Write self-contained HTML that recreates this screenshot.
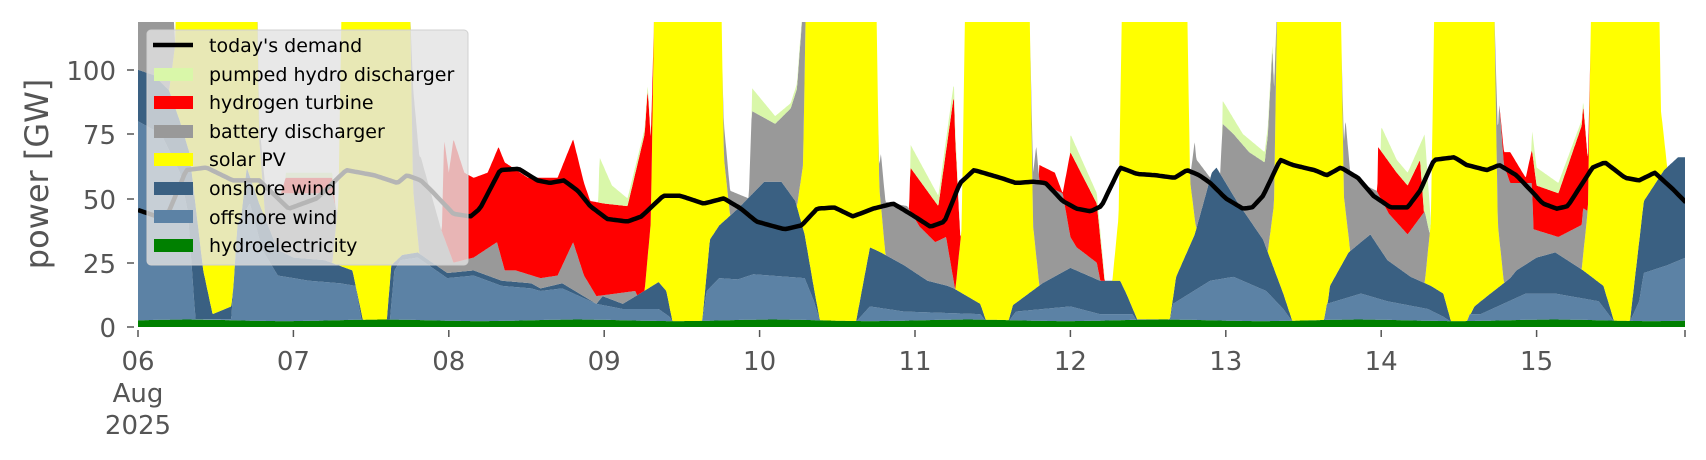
<!DOCTYPE html>
<html><head><meta charset="utf-8">
<style>
html,body{margin:0;padding:0;background:#fff;}
svg{display:block;font-family:"DejaVu Sans","Liberation Sans",sans-serif;}
</style></head>
<body>
<svg id="s" width="1706" height="460" viewBox="0 0 1706 460" xmlns="http://www.w3.org/2000/svg">
<defs><clipPath id="cp"><rect x="138" y="22" width="1547" height="305"/></clipPath></defs>
<g id="layers" clip-path="url(#cp)"></g>
<g id="axes" fill="#555" font-size="26">
<g stroke="#555" stroke-width="1.5">
<line x1="127" y1="327" x2="134" y2="327"/><line x1="127" y1="263" x2="134" y2="263"/><line x1="127" y1="199" x2="134" y2="199"/><line x1="127" y1="134" x2="134" y2="134"/><line x1="127" y1="70" x2="134" y2="70"/>
</g>
<text x="116" y="337" text-anchor="end">0</text>
<text x="116" y="273" text-anchor="end">25</text>
<text x="116" y="209" text-anchor="end">50</text>
<text x="116" y="144" text-anchor="end">75</text>
<text x="116" y="80" text-anchor="end">100</text>
<text transform="translate(48,174) rotate(-90)" text-anchor="middle" font-size="32">power [GW]</text>
<g id="xt" stroke="#555" stroke-width="1.5"></g>
<g id="xl" text-anchor="middle"></g>
<text x="138" y="402" text-anchor="middle">Aug</text>
<text x="138" y="434" text-anchor="middle">2025</text>
</g>
<g id="legend">
<rect x="147" y="30" width="321" height="235" rx="4" fill="rgba(226,226,226,0.8)" stroke="#d0d0d0" stroke-width="1"/>
<line x1="153" y1="45" x2="193" y2="45" stroke="#000" stroke-width="4.5"/>
<rect x="154" y="68" width="39" height="13" fill="#d9f7a9"/>
<rect x="154" y="96" width="39" height="13" fill="#ff0000"/>
<rect x="154" y="125" width="39" height="13" fill="#999999"/>
<rect x="154" y="153" width="39" height="13" fill="#ffff00"/>
<rect x="154" y="182" width="39" height="13" fill="#3a6082"/>
<rect x="154" y="210" width="39" height="13" fill="#5c82a5"/>
<rect x="154" y="239" width="39" height="13" fill="#008000"/>
<g font-size="19" fill="#000">
<text x="209" y="52">today's demand</text>
<text x="209" y="81">pumped hydro discharger</text>
<text x="209" y="109">hydrogen turbine</text>
<text x="209" y="138">battery discharger</text>
<text x="209" y="166">solar PV</text>
<text x="209" y="195">onshore wind</text>
<text x="209" y="224">offshore wind</text>
<text x="209" y="252">hydroelectricity</text>
</g>
</g>
</svg>
<script>
var X0=138,DW=155.4,Y0=327,K=2.572;
function px(d){return X0+d*DW;} function py(v){return Y0-v*K;}
function ip(a,d){if(d<=a[0][0])return a[0][1];for(var i=1;i<a.length;i++){if(d<=a[i][0]){var t=(d-a[i-1][0])/(a[i][0]-a[i-1][0]);return a[i-1][1]+t*(a[i][1]-a[i-1][1]);}}return a[a.length-1][1];}
var ON=[[0,100],[0.1,98],[0.2,92],[0.27,80],[0.33,68],[0.42,22],[0.48,5],[0.6,8],[0.64,30],[0.7,62],[0.78,48],[0.9,30],[1.0,27],[1.2,26],[1.38,22],[1.45,2],[1.6,2],[1.63,24],[1.7,28],[1.8,29],[1.99,21],[2.16,22],[2.34,18],[2.53,17],[2.59,15],[2.73,17],[2.95,9],[2.99,12],[3.12,9],[3.23,13],[3.35,17.5],[3.40,14],[3.44,2],[3.63,2],[3.68,34],[3.74,39.5],[3.86,46],[4.03,56.5],[4.14,56.5],[4.23,49],[4.29,36],[4.35,15],[4.39,2],[4.62,2],[4.71,31],[4.78,29],[4.93,24],[5.08,18],[5.21,16],[5.25,15],[5.42,9],[5.46,2],[5.6,2],[5.63,8.5],[5.82,17],[6.0,23],[6.19,18],[6.32,18],[6.36,13],[6.43,3],[6.64,3],[6.68,19.5],[6.8,36],[6.91,60],[6.94,62],[7.07,49],[7.24,34],[7.37,13],[7.43,2],[7.64,2],[7.67,16],[7.79,29],[7.93,36],[8.04,26],[8.19,19.5],[8.32,16],[8.4,13],[8.45,2],[8.55,2],[8.6,8],[8.64,10],[8.83,19],[8.87,22],[9.0,27],[9.12,29],[9.3,22],[9.43,16],[9.5,2],[9.6,2],[9.69,49],[9.82,61],[9.91,66],[9.96,66]];
var OFF=[[0,80],[0.15,75],[0.27,60],[0.32,45],[0.37,3],[0.6,3],[0.64,40],[0.72,48],[0.8,30],[0.9,20],[1.1,18],[1.3,17],[1.4,16],[1.44,2],[1.62,2],[1.65,22],[1.69,26],[1.8,27],[1.99,19],[2.16,20],[2.34,16],[2.53,15],[2.59,14],[2.73,15],[2.95,9],[3.12,7],[3.35,7],[3.42,4],[3.44,2],[3.63,2],[3.66,14],[3.74,19],[3.86,18.5],[3.96,20.5],[4.29,19],[4.35,10],[4.39,2],[4.62,2],[4.71,8],[4.93,6],[5.42,5],[5.46,2],[5.6,2],[5.65,6],[6.0,8],[6.19,5],[6.4,5],[6.43,2],[6.64,2],[6.66,9],[6.9,18],[7.05,19.5],[7.26,14],[7.37,7],[7.43,2],[7.63,2],[7.65,9],[7.87,13],[8.04,10],[8.3,7],[8.4,4],[8.45,2],[8.55,2],[8.57,5],[8.64,5],[8.93,13],[9.12,13],[9.4,10],[9.5,2],[9.6,2],[9.66,10],[9.69,21],[9.84,24],[9.96,27]];
var G=[[0,125],[0.22,118],[0.29,0],[0.71,0],[0.76,55],[0.9,52],[1.25,52],[1.31,0],[1.74,0],[1.77,68],[1.82,66],[1.95,38],[2.03,25],[2.16,27],[2.31,33],[2.36,22],[2.43,22],[2.59,19],[2.7,20],[2.8,33],[2.87,20],[2.95,12],[3.2,14],[3.3,0],[3.74,0],[3.77,54],[3.93,50],[3.95,84],[4.1,79],[4.2,85],[4.28,100],[4.31,0],[4.74,0],[4.78,49],[4.95,47],[5.03,39],[5.13,33],[5.2,35],[5.3,0],[5.73,0],[5.78,58],[5.84,55],[5.95,52],[6.0,35],[6.04,31],[6.17,25],[6.25,0],[6.74,0],[6.8,66],[6.9,58],[6.96,55],[6.98,79],[7.05,75],[7.15,68],[7.25,64],[7.3,90],[7.34,0],[7.73,0],[7.77,62],[7.9,55],[7.97,53],[8.05,44],[8.17,36],[8.28,45],[8.33,0],[8.72,0],[8.76,68],[8.83,56],[8.97,56],[8.98,38],[9.14,35],[9.3,40],[9.36,0],[9.96,0]];
var R=[[0,0],[0.9,0],[0.92,52],[0.95,58],[1.25,58],[1.3,0],[1.94,0],[1.97,73],[2.0,60],[2.03,73],[2.1,60],[2.16,58],[2.25,60],[2.32,70],[2.36,64],[2.51,58],[2.7,58],[2.8,73],[2.87,56],[2.91,49],[3.0,48],[3.15,47],[3.28,80],[3.33,0],[4.94,0],[4.97,62],[5.15,47],[5.25,90],[5.3,0],[5.79,0],[5.8,63],[5.9,60],[5.95,52],[6.0,68],[6.17,48],[6.25,0],[7.96,0],[7.98,70],[8.1,60],[8.17,55],[8.25,65],[8.33,0],[8.75,0],[8.76,68],[8.83,68],[8.93,58],[8.97,69],[9.0,55],[9.14,52],[9.3,80],[9.36,0],[9.96,0]];
var P=[[0,0],[0.9,0],[0.95,60],[1.25,60],[1.3,0],[2.94,0],[2.97,66],[3.05,55],[3.15,50],[3.28,82],[3.33,0],[3.94,0],[3.95,93],[4.1,82],[4.2,87],[4.28,102],[4.31,0],[4.96,0],[4.97,71],[5.15,51],[5.25,95],[5.3,0],[5.99,0],[6.0,75],[6.17,52],[6.25,0],[6.97,0],[6.98,88],[7.11,75],[7.25,68],[7.3,92],[7.34,0],[7.99,0],[8.0,78],[8.1,65],[8.17,60],[8.28,75],[8.33,0],[8.94,0],[8.97,77],[9.0,62],[9.14,56],[9.3,82],[9.36,0],[9.96,0]];
var PL=[[0.27,0.75],[1.32,1.74],[3.33,3.74],[4.31,4.74],[5.33,5.73],[6.34,6.74],[7.34,7.73],[8.35,8.72],[9.36,9.77]];
function S(d){var s=0;for(var i=0;i<PL.length;i++){var a=PL[i][0],b=PL[i][1];if(d>a-0.08&&d<b+0.08){s+=ip([[a-0.07,0],[a-0.03,25],[a,140],[b,140],[b+0.03,25],[b+0.07,0]],d);}}return s;}
var D=[[0,45.5],[0.12,43],[0.2,45],[0.31,61],[0.44,62],[0.61,57],[0.78,57],[0.97,46],[1.15,50],[1.34,61],[1.52,59],[1.67,56],[1.73,59],[1.82,57],[1.88,53.5],[2.03,44],[2.14,43],[2.2,46],[2.33,61],[2.45,61.5],[2.57,57],[2.65,56],[2.74,57],[2.83,53],[2.91,47],[3.02,42],[3.15,41],[3.24,43],[3.38,51],[3.49,51],[3.64,48],[3.77,50],[3.88,46],[3.98,41],[4.16,38],[4.27,39.5],[4.37,46],[4.48,46.5],[4.6,43],[4.73,46],[4.86,48],[4.97,44],[5.1,39],[5.19,41],[5.29,56],[5.38,61],[5.55,58],[5.65,56],[5.76,56.5],[5.84,56],[5.95,49],[6.04,46],[6.13,45],[6.2,47],[6.32,62],[6.43,59.5],[6.55,59],[6.67,58],[6.75,61],[6.83,59],[6.9,56],[7.0,50],[7.11,46],[7.17,46.5],[7.24,51],[7.35,65],[7.43,63],[7.57,61],[7.65,59],[7.74,62],[7.85,58],[7.95,51],[8.06,46.5],[8.17,46.5],[8.25,53],[8.34,65],[8.47,66],[8.55,63],[8.68,61],[8.76,63],[8.87,59],[8.98,52],[9.04,48],[9.13,46],[9.2,47],[9.36,62],[9.44,64],[9.57,58],[9.66,57],[9.76,60],[9.87,54],[9.96,48.5]];
var cols=["#008000","#5c82a5","#3a6082","#ffff00","#999999","#ff0000","#d9f7a9"];
var N=2500,dmax=9.96,stacks=[];for(var k=0;k<=7;k++)stacks.push([]);
for(var i=0;i<=N;i++){var d=dmax*i/N;var hy=2.6+0.3*Math.sin(d*5);var of=Math.max(ip(OFF,d),hy);var on=Math.max(ip(ON,d),of);var s=S(d);
var g=ip(G,d),r=ip(R,d),p=ip(P,d);var b=Math.max(0,g-on);var base2=Math.max(g,on);var h=Math.max(0,r-base2);var base3=Math.max(r,base2);var pp=Math.max(0,p-base3);
var c=[0,hy,of,on,on+s,on+s+b,on+s+b+h,on+s+b+h+pp];for(var k=0;k<=7;k++)stacks[k].push([px(d),py(Math.min(c[k],140))]);}
var ns="http://www.w3.org/2000/svg",L=document.getElementById("layers");
for(var k=1;k<=7;k++){var up=stacks[k],lo=stacks[k-1];var pts=[];for(var i=0;i<up.length;i++)pts.push(up[i][0].toFixed(1)+","+up[i][1].toFixed(1));for(var i=lo.length-1;i>=0;i--)pts.push(lo[i][0].toFixed(1)+","+lo[i][1].toFixed(1));
var e=document.createElementNS(ns,"polygon");e.setAttribute("points",pts.join(" "));e.setAttribute("fill",cols[k-1]);L.appendChild(e);}
var dp=[];for(var i=0;i<=600;i++){var d=dmax*i/600;dp.push(px(d).toFixed(1)+","+py(ip(D,d)).toFixed(1));}
var pl=document.createElementNS(ns,"polyline");pl.setAttribute("points",dp.join(" "));pl.setAttribute("fill","none");pl.setAttribute("stroke","#000");pl.setAttribute("stroke-width","4.5");pl.setAttribute("stroke-linejoin","round");L.appendChild(pl);
var XT=document.getElementById("xt"),XL=document.getElementById("xl");
for(var j=0;j<=10;j++){var x=px(j);if(x>1690)x=1685;var t=document.createElementNS(ns,"line");t.setAttribute("x1",x);t.setAttribute("x2",x);t.setAttribute("y1",330);t.setAttribute("y2",337);XT.appendChild(t);
if(j<10){var tx=document.createElementNS(ns,"text");tx.setAttribute("x",x);tx.setAttribute("y",370);tx.textContent=(j+6<10?"0":"")+(j+6);XL.appendChild(tx);}}
</script>
</body></html>
